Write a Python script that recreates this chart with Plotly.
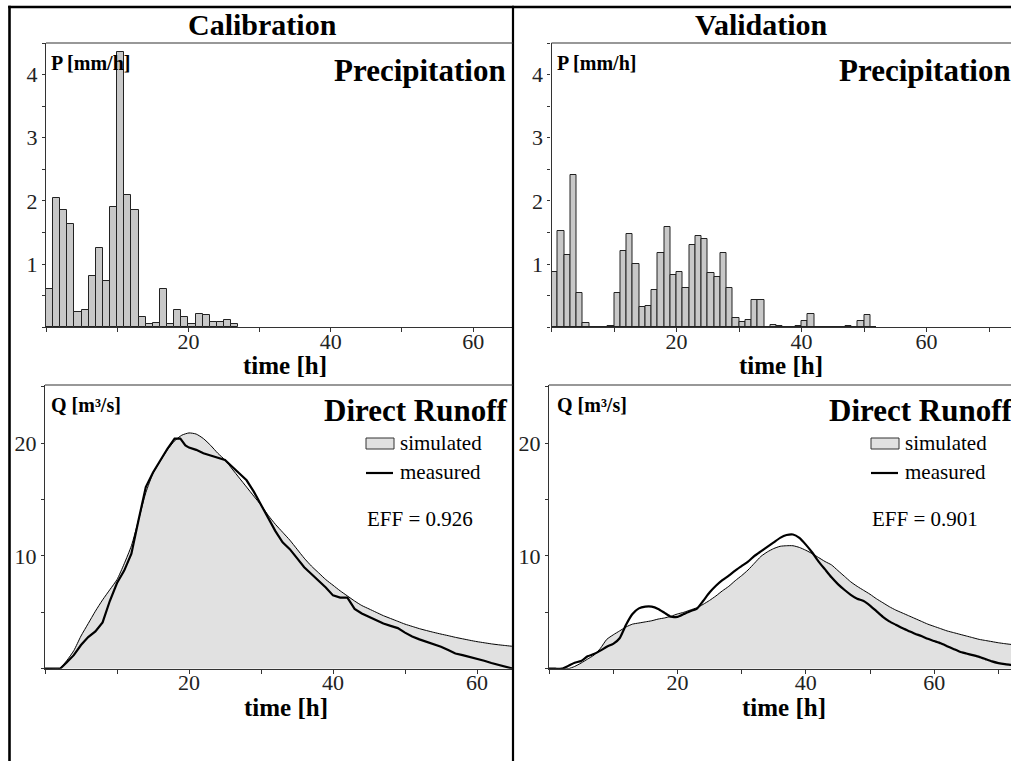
import plotly.graph_objects as go

W, H = 1011, 761

# ---------------- data ----------------
# hourly precipitation [mm/h], bar k covers hour k..k+1
cal_precip = [0.60, 2.05, 1.85, 1.64, 0.25, 0.28, 0.81, 1.26, 0.73, 1.91, 4.36, 2.09,
              1.85, 0.16, 0.06, 0.07, 0.60, 0.06, 0.27, 0.17, 0.06, 0.21, 0.20, 0.08,
              0.09, 0.11, 0.05]
val_precip = [0.88, 1.53, 1.14, 2.41, 0.54, 0.07, 0, 0, 0, 0.02, 0.55, 1.21, 1.48,
              1.00, 0.32, 0.34, 0.59, 1.17, 1.59, 0.82, 0.88, 0.62, 1.30, 1.44, 1.39,
              0.86, 0.80, 1.17, 0.63, 0.14, 0.09, 0.11, 0.43, 0.44, 0, 0.03, 0.02,
              0, 0, 0.02, 0.10, 0.21, 0, 0, 0, 0, 0, 0.02, 0.01, 0.10, 0.20, 0.01]

cal_t_sim = list(range(0, 67))
cal_q_sim = [0, 0, 0, 0.7, 1.6, 2.9, 4.0, 5.1, 6.1, 7.0, 7.9, 9.3, 10.9, 13.2, 15.6,
             17.3, 18.4, 19.4, 20.2, 20.7, 20.9, 20.8, 20.4, 19.8, 19.1, 18.5, 17.7,
             16.9, 16.1, 15.3, 14.5, 13.6, 12.8, 12.1, 11.4, 10.6, 9.8, 9.1, 8.5, 7.9,
             7.4, 6.9, 6.45, 6.0, 5.6, 5.3, 5.0, 4.7, 4.45, 4.2, 3.95, 3.75, 3.55, 3.38,
             3.22, 3.07, 2.93, 2.78, 2.65, 2.52, 2.4, 2.3, 2.2, 2.12, 2.05, 1.98, 1.92]
cal_t_meas = [0, 1, 2, 2.1, 3, 4, 5, 6, 7, 8, 9, 10, 11, 12, 13, 14, 15, 16, 17, 18,
              18.8, 19.5, 20, 21, 22, 23, 24, 25, 26, 27, 28, 29, 30, 31, 32, 33, 34,
              35, 36, 37, 38, 39, 40, 41, 42, 43, 44, 45, 46, 47, 48, 49, 50, 51, 52,
              53, 54, 55, 56, 57, 58, 59, 60, 61, 62, 63, 64, 65]
cal_q_meas = [0, 0, 0, 0, 0.55, 1.2, 2.1, 2.8, 3.3, 4.1, 6.0, 7.6, 8.7, 10.2, 13.2,
              16.1, 17.4, 18.5, 19.5, 20.4, 20.4, 19.8, 19.6, 19.4, 19.1, 18.9, 18.7,
              18.5, 17.9, 17.3, 16.7, 15.7, 14.5, 13.3, 12.2, 11.2, 10.6, 9.8, 9.0,
              8.4, 7.8, 7.2, 6.5, 6.3, 6.3, 5.3, 4.9, 4.6, 4.3, 4.0, 3.8, 3.6, 3.2,
              2.85, 2.6, 2.4, 2.2, 1.95, 1.65, 1.35, 1.2, 1.05, 0.9, 0.7, 0.5, 0.35,
              0.15, 0]

val_t = list(range(0, 75))
val_q_sim = [0, 0, 0, 0, 0.2, 0.5, 0.85, 1.2, 1.8, 2.6, 3.0, 3.35, 3.7, 3.95, 4.05,
             4.15, 4.25, 4.4, 4.5, 4.65, 4.85, 5.0, 5.2, 5.4, 5.7, 6.05, 6.45, 6.9,
             7.3, 7.8, 8.25, 8.75, 9.35, 9.95, 10.35, 10.65, 10.85, 10.9, 10.9, 10.75,
             10.5, 10.2, 9.85, 9.5, 9.2, 8.7, 8.2, 7.7, 7.3, 6.95, 6.6, 6.2, 5.85, 5.5,
             5.2, 4.95, 4.7, 4.45, 4.2, 3.95, 3.75, 3.55, 3.35, 3.2, 3.05, 2.9, 2.75,
             2.6, 2.5, 2.4, 2.3, 2.22, 2.15, 2.1, 2.05]
val_q_meas = [0, 0, 0, 0.25, 0.53, 0.68, 1.1, 1.3, 1.6, 1.95, 2.2, 2.7, 3.9, 4.85,
              5.35, 5.5, 5.5, 5.3, 4.95, 4.6, 4.6, 4.85, 5.1, 5.3, 6.0, 6.75, 7.35,
              7.85, 8.25, 8.7, 9.1, 9.5, 10.0, 10.4, 10.8, 11.2, 11.6, 11.85, 11.9,
              11.6, 11.0, 10.3, 9.5, 8.8, 8.1, 7.5, 7.0, 6.55, 6.2, 6.0, 5.6, 5.1, 4.6,
              4.2, 3.9, 3.6, 3.35, 3.1, 2.9, 2.65, 2.45, 2.25, 2.0, 1.75, 1.5, 1.35,
              1.2, 1.05, 0.85, 0.65, 0.5, 0.4, 0.33, 0.25, 0.2]

x_tick_vals = [0, 10, 20, 30, 40, 50, 60, 70]
x_tick_text = ["", "", "20", "", "40", "", "60", ""]
p_tick_vals = [0, 0.5, 1, 1.5, 2, 2.5, 3, 3.5, 4, 4.5]
p_tick_text = ["", "", "1", "", "2", "", "3", "", "4", ""]
q_tick_vals = [0, 5, 10, 15, 20, 25]
q_tick_text = ["", "", "10", "", "20", ""]

titles = ["Calibration", "Validation"]
eff_text = ["EFF = 0.926", "EFF = 0.901"]

# ---------------- helpers ----------------
def px(x):
    return x / W


def py(y):
    return 1 - y / H


FONT = "Liberation Serif, Times New Roman, serif"
BAR_FILL = "#c8c8c8"
AREA_FILL = "#e1e1e1"

fig = go.Figure()

# precipitation bars
fig.add_trace(go.Bar(x=[k + 0.5 for k in range(len(cal_precip))], y=cal_precip, width=1,
                     marker=dict(color=BAR_FILL, line=dict(color="#222", width=1)),
                     xaxis="x", yaxis="y", showlegend=False))
fig.add_trace(go.Bar(x=[k + 0.5 for k in range(len(val_precip))], y=val_precip, width=1,
                     marker=dict(color=BAR_FILL, line=dict(color="#222", width=1)),
                     xaxis="x2", yaxis="y2", showlegend=False))

# runoff
fig.add_trace(go.Scatter(x=cal_t_sim, y=cal_q_sim, mode="lines", fill="tozeroy",
                         fillcolor=AREA_FILL,
                         line=dict(color="#000", width=1, shape="spline", smoothing=0.6),
                         xaxis="x3", yaxis="y3", showlegend=False))
fig.add_trace(go.Scatter(x=cal_t_meas, y=cal_q_meas, mode="lines",
                         line=dict(color="#000", width=2.2),
                         xaxis="x3", yaxis="y3", showlegend=False))
fig.add_trace(go.Scatter(x=val_t, y=val_q_sim, mode="lines", fill="tozeroy",
                         fillcolor=AREA_FILL,
                         line=dict(color="#000", width=1, shape="spline", smoothing=0.6),
                         xaxis="x4", yaxis="y4", showlegend=False))
fig.add_trace(go.Scatter(x=val_t, y=val_q_meas, mode="lines",
                         line=dict(color="#000", width=2.2, shape="spline", smoothing=0.5),
                         xaxis="x4", yaxis="y4", showlegend=False))

tickfont = dict(family=FONT, size=22, color="#222")


def xax(left, right, rng, anchor):
    return dict(domain=[px(left), px(right)], range=rng, anchor=anchor,
                tickmode="array", tickvals=x_tick_vals, ticktext=x_tick_text,
                ticks="outside", ticklen=4, tickwidth=1, tickcolor="#333",
                ticklabelstandoff=-10,
                showline=True, linecolor="#333", linewidth=1.2,
                showgrid=False, zeroline=False, tickfont=tickfont, fixedrange=True)


def yax(top, bottom, rng, vals, text, anchor):
    return dict(domain=[py(bottom), py(top)], range=rng, anchor=anchor,
                tickmode="array", tickvals=vals, ticktext=text,
                ticks="outside", ticklen=3, tickwidth=1, tickcolor="#333",
                showline=True, linecolor="#333", linewidth=1.2,
                showgrid=False, zeroline=False, tickfont=tickfont, fixedrange=True)


top_y0, top_y1 = 43, 327.3
bot_y0, bot_y1 = 385, 668.7

fig.update_layout(
    width=W, height=H,
    margin=dict(l=0, r=0, t=0, b=0),
    paper_bgcolor="white", plot_bgcolor="white",
    bargap=0,
    xaxis=xax(46, 513, [0, 65.6], "y"),
    yaxis=yax(top_y0, top_y1, [0, 4.5], p_tick_vals, p_tick_text, "x"),
    xaxis2=xax(551.5, 1011, [0, 73.5], "y2"),
    yaxis2=yax(top_y0, top_y1, [0, 4.5], p_tick_vals, p_tick_text, "x2"),
    xaxis3=xax(45, 513, [0, 65.0], "y3"),
    yaxis3=yax(bot_y0, bot_y1, [0, 25.15], q_tick_vals, q_tick_text, "x3"),
    xaxis4=xax(549, 1011, [0, 71.96], "y4"),
    yaxis4=yax(bot_y0, bot_y1, [0, 25.15], q_tick_vals, q_tick_text, "x4"),
    font=dict(family=FONT, color="#000"),
)

shapes = []


def hline(x0, x1, y, w=1, c="#333"):
    shapes.append(dict(type="line", xref="paper", yref="paper",
                       x0=px(x0), x1=px(x1), y0=py(y), y1=py(y),
                       line=dict(color=c, width=w)))


def vline(x, y0, y1, w=1, c="#333"):
    shapes.append(dict(type="line", xref="paper", yref="paper",
                       x0=px(x), x1=px(x), y0=py(y0), y1=py(y1),
                       line=dict(color=c, width=w)))


# outer frame and divider
vline(9.5, 5.8, 761, 2.6, "#000")
hline(8.2, 1011, 7, 2.4, "#000")
vline(513, 5.8, 761, 2.2, "#000")
# plot top borders
hline(46, 513, top_y0, 1.2)
hline(551.5, 1011, top_y0, 1.2)
hline(45, 513, bot_y0, 1.2)
hline(549, 1011, bot_y0, 1.2)

annotations = []


def text(x, y, s, size, xanchor="left", bold=False, yanchor="middle"):
    annotations.append(dict(xref="paper", yref="paper", x=px(x), y=py(y),
                            text=f"<b>{s}</b>" if bold else s, showarrow=False,
                            xanchor=xanchor, yanchor=yanchor,
                            font=dict(family=FONT, size=size, color="#000"),
                            borderpad=0))


for i, off in enumerate([0, 505]):
    cx_title = [262.5, 761.5][i]
    text(cx_title, 25, titles[i], 30, "center", True)
    text(507 + off, 71, "Precipitation", 31, "right", True)
    text(508 + off, 410, "Direct Runoff", 31, "right", True)
    text([50, 556][i], 63, "P [mm/h]", 20, "left", True)
    text([50, 556][i], 405, "Q [m³/s]", 20, "left", True)
    text([285, 781][i], 365, "time [h]", 25, "center", True)
    text([286, 784][i], 707, "time [h]", 25, "center", True)
    # legend
    shapes.append(dict(type="rect", xref="paper", yref="paper",
                       x0=px(366 + off), x1=px(394 + off), y0=py(449), y1=py(438),
                       fillcolor=AREA_FILL, line=dict(color="#333", width=1)))
    text(399 + off, 443, "simulated", 21)
    hline(366 + off, 393 + off, 473, 2.2, "#000")
    text(399 + off, 472, "measured", 21)
    text(366 + off, 519, eff_text[i], 21)

fig.update_layout(shapes=shapes, annotations=annotations)

fig.write_html("out.html")
